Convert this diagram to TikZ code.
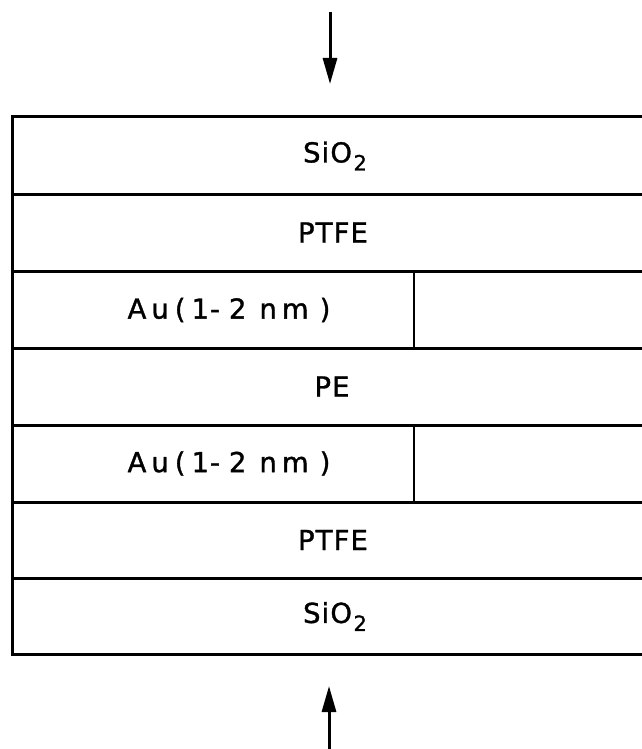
\documentclass[tikz,border=0pt]{standalone}
\usepackage{fontspec}
\setmainfont{DejaVu Sans}[LetterSpace=4]
\usetikzlibrary{arrows.meta}

% lowered, smaller index digit
\newcommand{\lowidx}[1]{\kern1.5pt{\fontsize{21}{21}\selectfont\raisebox{-8pt}{#1}}}
% widely spaced gold-layer label
\newcommand{\aulabel}{A\kern5pt u\kern6pt(\kern6pt 1\kern1pt-\kern9pt 2\kern13pt n\kern5pt m\kern11pt)}

\begin{document}
\begin{tikzpicture}[x=1pt,y=-1pt,
  layerline/.style={line width=3pt},
  cellline/.style={line width=2.4pt},
  lbl/.style={inner sep=0pt,font=\fontsize{27.5}{27.5}\selectfont\addfontfeatures{FakeBold=1.2}},
  flow/.style={line width=3pt,-{Triangle[length=26pt,width=14pt]}}]
  \useasboundingbox (0,0) rectangle (642,749);
  \clip (0,0) rectangle (642,749);

  % layer boundaries of the stack (open on the right)
  \foreach \yy in {117,194,271,348,425,502,578,654}
    \draw[layerline] (12,\yy) -- (650,\yy);
  \draw[layerline] (12,115.5) -- (12,655.5);

  % split of the two gold layers
  \draw[cellline] (414,271) -- (414,348);
  \draw[cellline] (414,425) -- (414,502);

  % layer labels
  \node[lbl] (sio2top)  at (335,156) {SiO\lowidx{2}};
  \node[lbl] (ptfetop)  at (333,232.5) {PTFE};
  \node[lbl] (autop)    at (229,310) {\aulabel};
  \node[lbl] (pe)       at (332,386.5) {PE};
  \node[lbl] (aubot)    at (229,463.5) {\aulabel};
  \node[lbl] (ptfebot)  at (333,540)   {PTFE};
  \node[lbl] (sio2bot)  at (335,616.5) {SiO\lowidx{2}};

  % load arrows
  \coordinate (intop) at (330,12);
  \coordinate (tiptop) at (330,84);
  \coordinate (inbot) at (329,752);
  \coordinate (tipbot) at (329,686);
  \draw[flow] (intop) -- (tiptop);
  \draw[flow] (inbot) -- (tipbot);
\end{tikzpicture}
\end{document}
